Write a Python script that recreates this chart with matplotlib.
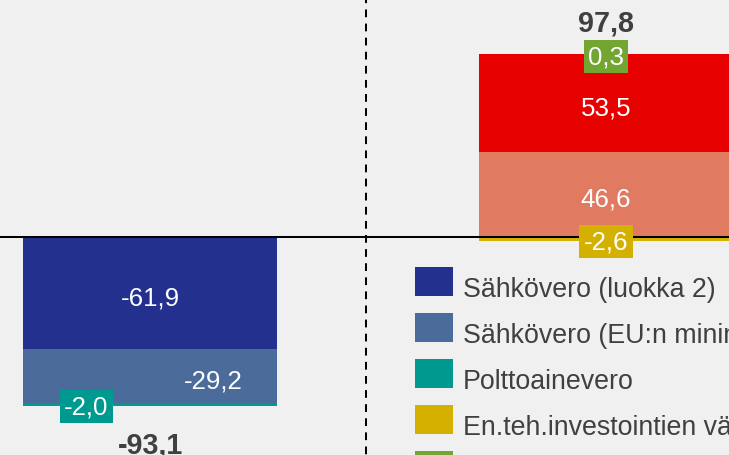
import matplotlib
matplotlib.use("Agg")
import matplotlib.pyplot as plt
from matplotlib.patches import Rectangle

plt.rcParams['font.family'] = ['Liberation Sans', 'DejaVu Sans']

# ---- data ----
categories = ["Verotuotot", "Tuet"]
series_names = [
    "Sähkövero (luokka 2)",
    "Sähkövero (EU:n minimitaso)",
    "Polttoainevero",
    "En.teh.investointien vähennys",
    "Muut",
    "Tuki A",
    "Tuki B",
]
series_colors = ["#24308E", "#4B6B9A", "#00998F", "#D4B000", "#72A532", "#E07A61", "#E60000"]
series_values = [
    [-61.9, 0.0],
    [-29.2, 0.0],
    [-2.0, 0.0],
    [0.0, -2.6],
    [0.0, 0.3],
    [0.0, 46.6],
    [0.0, 53.5],
]
# stacking order per bar (from zero outwards)
stack_order = [0, 1, 2, 3, 5, 6, 4]
# label placement for each series: horizontal shift in bar-width fractions
label_shift = [0.0, 0.25, -0.25, 0.0, 0.0, 0.0, 0.0]
boxed = [False, False, True, True, True, False, False]
totals = [-93.1, 97.8]

BG = "#F0F0F0"
TXT = "#404040"

fig = plt.figure(figsize=(7.29, 4.56), dpi=100)
fig.patch.set_facecolor(BG)
ax = fig.add_axes([0, 0, 1, 1])
ax.set_facecolor(BG)
ax.axis('off')

# pixel mapping (layout)
x0px, xscale = 150.0, 456.0
zpx, yscale = 237.7, 1.822
W, H = 729, 456
ax.set_xlim(-x0px / xscale, (W - x0px) / xscale)
ax.set_ylim((zpx - H) / yscale, zpx / yscale)

width = 254.0 / xscale
xs = list(range(len(categories)))

def fmt(v):
    return f"{v:.1f}".replace(".", ",")

pos_base = [0.0] * len(xs)
neg_base = [0.0] * len(xs)
for si in stack_order:
    vals = series_values[si]
    for xi, v in enumerate(vals):
        if v == 0:
            continue
        if v > 0:
            b = pos_base[xi]
            pos_base[xi] += v
        else:
            b = neg_base[xi]
            neg_base[xi] += v
        ax.bar(xs[xi], v, bottom=b, width=width, color=series_colors[si],
               linewidth=0, zorder=2)
        mid = b + v / 2
        lx = xs[xi] + label_shift[si] * width
        if boxed[si]:
            ax.annotate(fmt(v), xy=(lx, mid), xytext=(0, -9.3), textcoords='offset pixels',
                        ha='center', va='baseline', color='white', fontsize=18.6,
                        zorder=5,
                        bbox=dict(boxstyle='square,pad=0.17', fc=series_colors[si], ec='none'))
        else:
            ax.annotate(fmt(v), xy=(lx, mid), xytext=(0, -11.3), textcoords='offset pixels',
                        ha='center', va='baseline', color='white', fontsize=18.6, zorder=5)

for xi, t in enumerate(totals):
    if t >= 0:
        ax.annotate(fmt(t), xy=(xs[xi], pos_base[xi]), xytext=(0, 23.5),
                    textcoords='offset pixels', ha='center', va='baseline',
                    color=TXT, fontsize=20.7, fontweight='bold')
    else:
        ax.annotate(fmt(t), xy=(xs[xi], neg_base[xi]), xytext=(0, -46.3),
                    textcoords='offset pixels', ha='center', va='baseline',
                    color=TXT, fontsize=20.7, fontweight='bold')

# zero line and dashed separator
ax.axhline(0, color='black', linewidth=1.45, zorder=3)
sep_x = (365.7 - x0px) / xscale
ylo, yhi = ax.get_ylim()
ax.plot([sep_x, sep_x], [yhi, ylo], color='black', linewidth=1.45,
        linestyle=(1.8, (3.85, 3.15)), zorder=1)

# legend (drawn as figure artists, laid out in pixels)
leg_x, leg_top, row_pitch = 415.0, 268.0, 46.0
sw_w, sw_h = 38.0, 28.7
text_x = 462.7
for i, (name, col) in enumerate(zip(series_names, series_colors)):
    top = leg_top + i * row_pitch
    fig.add_artist(Rectangle((leg_x / W, 1 - (top + sw_h) / H), sw_w / W, sw_h / H,
                             transform=fig.transFigure, facecolor=col,
                             edgecolor='none'))
    fig.text(text_x / W, 1 - (top + sw_h) / H, name, ha='left', va='baseline',
             fontsize=19.25, color=TXT)

fig.savefig("out.png", dpi=100, facecolor=BG)
